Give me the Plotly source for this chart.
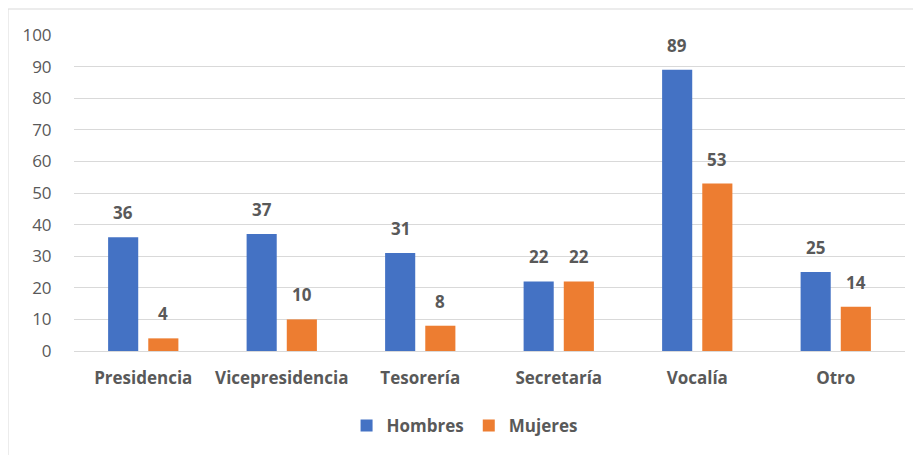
import plotly.graph_objects as go

categories = ["Presidencia", "Vicepresidencia", "Tesorería", "Secretaría", "Vocalía", "Otro"]
hombres = [36, 37, 31, 22, 89, 25]
mujeres = [4, 10, 8, 22, 53, 14]
y_ticks = [0, 10, 20, 30, 40, 50, 60, 70, 80, 90, 100]

BLUE = "#4472C4"
ORANGE = "#ED7D31"
GRAY = "#595959"
FONT = "Open Sans"

fig = go.Figure()
fig.add_trace(go.Bar(name="<b>Hombres</b>", x=categories, y=hombres, marker_color=BLUE, marker_line_width=0))
fig.add_trace(go.Bar(name="<b>Mujeres</b>", x=categories, y=mujeres, marker_color=ORANGE, marker_line_width=0))

annotations = []
for c, h, m in zip(categories, hombres, mujeres):
    for v, shift in ((h, -20), (m, 20)):
        annotations.append(dict(
            x=c, y=v, xref="x", yref="y", text=f"<b>{v}</b>", showarrow=False,
            xshift=shift, yshift=11, yanchor="bottom",
            font=dict(family=FONT, size=17, color=GRAY),
        ))

fig.update_layout(
    width=921, height=455,
    margin=dict(l=66, r=24, t=27, b=112, autoexpand=False),
    paper_bgcolor="white", plot_bgcolor="white",
    barmode="group", bargap=0.42, bargroupgap=0.25,
    showlegend=True,
    legend=dict(orientation="h", x=0.47, xanchor="center", y=-0.18, yanchor="top",
                font=dict(family=FONT, size=17, color=GRAY), itemwidth=30, traceorder="normal"),
    annotations=annotations,
    font=dict(family=FONT, color=GRAY),
    shapes=[dict(type="rect", xref="paper", yref="paper",
                 x0=(8 - 74) / 831, x1=(920 - 74) / 831, y0=-0.4, y1=1 + (35 - 9) / 316,
                 line=dict(color="#D9D9D9", width=1), fillcolor="rgba(0,0,0,0)", layer="below")],
)
fig.update_xaxes(showgrid=False, showline=True, linecolor="#D9D9D9", linewidth=1,
                 ticks="outside", ticklen=12, tickcolor="rgba(0,0,0,0)",
                 tickfont=dict(family=FONT, size=17, color=GRAY),
                 tickvals=categories, ticktext=[f"<b>{c}</b>" for c in categories])
fig.update_yaxes(range=[0, 100], tickvals=y_ticks, showgrid=True, gridcolor="#D9D9D9", gridwidth=1,
                 zeroline=False, showline=False,
                 ticks="outside", ticklen=18, tickcolor="rgba(0,0,0,0)",
                 tickfont=dict(family=FONT, size=17, color=GRAY))

fig.write_html("out.html")
